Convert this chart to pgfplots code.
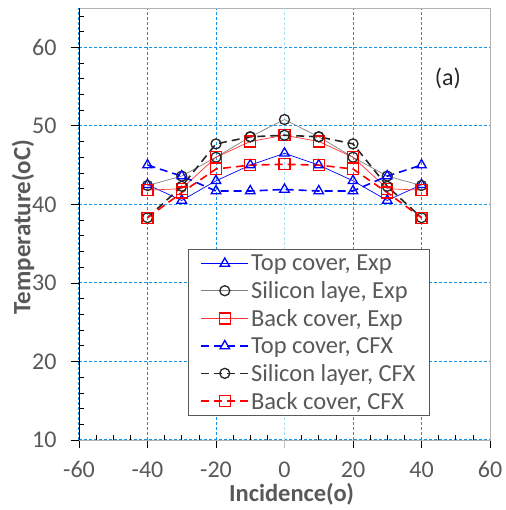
\documentclass[border=0pt]{standalone}
\usepackage{pgfplots}
\pgfplotsset{compat=1.18}
\usepackage{fontspec}
\setmainfont{Carlito}
\definecolor{gridblue}{RGB}{20,145,235}
\definecolor{txtgray}{RGB}{89,89,89}
\begin{document}
\begin{tikzpicture}
\begin{axis}[
  scale only axis, width=411pt, height=432pt,
  xmin=-60, xmax=60, ymin=10, ymax=65,
  xtick={-60,-40,-20,20,40,60},
  extra x ticks={0},
  extra x tick style={major grid style={color=cyan!35, dash pattern=on 3pt off 2pt, line width=1pt}, major tick style={gray!50}},
  ytick={10,20,...,60},
  minor xtick={-55,-50,-45,-35,-30,-25,-15,-10,-5,5,10,15,25,30,35,45,50,55},
  minor ytick={12,14,16,18,22,24,26,28,32,34,36,38,42,44,46,48,52,54,56,58,62,64},
  tick pos=left,
  tick align=outside,
  major tick length=8pt,
  minor tick length=-5pt,
  major tick style={black, line width=0.8pt},
  minor tick style={black, line width=0.6pt},
  xmajorgrids, ymajorgrids,
  major grid style={color=gridblue, dash pattern=on 3pt off 2pt, line width=1pt},
  axis line style={gray!60, line width=0.8pt},
  /pgf/number format/assume math mode=true,
  tick label style={font=\fontsize{24}{28}\selectfont, text=txtgray},
  xticklabel style={yshift=-10pt},
  yticklabel style={xshift=-11pt},
  xlabel={\textbf{Incidence(o)}},
  ylabel={\textbf{Temperature(oC)}},
  every axis x label/.style={at={(rel axis cs:0.517,0)}, yshift=-54pt, anchor=center, font=\fontsize{24.5}{28}\selectfont, text=txtgray},
  every axis y label/.style={at={(rel axis cs:0,0.493)}, xshift=-56pt, rotate=90, anchor=center, font=\fontsize{25}{28}\selectfont, text=txtgray},
  legend style={at={(rel axis cs:0.265,0.442)}, anchor=north west, draw=gray!70!black, line width=1.2pt,
    font=\fontsize{24.5}{28}\selectfont, text=txtgray, inner xsep=12pt, inner ysep=3pt, row sep=5pt,
    nodes={inner ysep=2.2pt}},
  legend cell align=left,
  legend image code/.code={\draw[mark repeat=2,mark phase=2] plot coordinates {(0pt,0pt) (23.5pt,0pt) (47pt,0pt)};},
]
\addplot[blue, line width=0.7pt, mark=triangle, mark size=5.5pt, mark options={solid, line width=1.3pt}]
  coordinates {(-40,42.5) (-30,40.5) (-20,43.0) (-10,45.0) (0,46.5) (10,45.0) (20,43.0) (30,40.5) (40,42.5)};
\addlegendentry{Top cover, Exp}
\addplot[gray, line width=0.7pt, mark=o, mark size=5pt, mark options={solid, black!85, line width=1.3pt}]
  coordinates {(-40,42.4) (-30,43.6) (-20,46.0) (-10,48.6) (0,50.8) (10,48.6) (20,46.0) (30,43.6) (40,42.4)};
\addlegendentry{Silicon laye, Exp}
\addplot[red!80, line width=0.7pt, mark=square, mark size=5.5pt, mark options={solid, red, line width=1.3pt}]
  coordinates {(-40,41.8) (-30,42.0) (-20,46.0) (-10,48.0) (0,48.8) (10,48.0) (20,46.0) (30,42.0) (40,41.8)};
\addlegendentry{Back cover, Exp}
\addplot[blue, line width=1.6pt, dash pattern=on 8pt off 5pt, mark=triangle, mark size=5.5pt, mark options={solid, line width=1.3pt}]
  coordinates {(-40,45.0) (-30,43.6) (-20,41.7) (-10,41.7) (0,41.9) (10,41.7) (20,41.7) (30,43.6) (40,45.0)};
\addlegendentry{Top cover, CFX}
\addplot[black!85, line width=1.6pt, dash pattern=on 8pt off 5pt, mark=o, mark size=5pt, mark options={solid, line width=1.3pt}]
  coordinates {(-40,38.3) (-30,42.3) (-20,47.7) (-10,48.6) (0,48.8) (10,48.6) (20,47.7) (30,42.3) (40,38.3)};
\addlegendentry{Silicon layer, CFX}
\addplot[red, line width=1.6pt, dash pattern=on 8pt off 5pt, mark=square, mark size=5.5pt, mark options={solid, line width=1.3pt}]
  coordinates {(-40,38.3) (-30,41.5) (-20,44.5) (-10,45.0) (0,45.1) (10,45.0) (20,44.5) (30,41.5) (40,38.3)};
\addlegendentry{Back cover, CFX}
\draw[black, line width=0.9pt] (rel axis cs:0,1) -- (rel axis cs:0,0) -- (rel axis cs:1,0);
\node[font=\fontsize{24}{28}\selectfont, text=black!85] at (axis cs:47.7,56.1) {(a)};
\coordinate (bl) at (rel axis cs:0,0);
\end{axis}
\pgfresetboundingbox
\useasboundingbox (bl) ++(-79pt,-70pt) rectangle ++(505pt,510pt);
\end{tikzpicture}
\end{document}
